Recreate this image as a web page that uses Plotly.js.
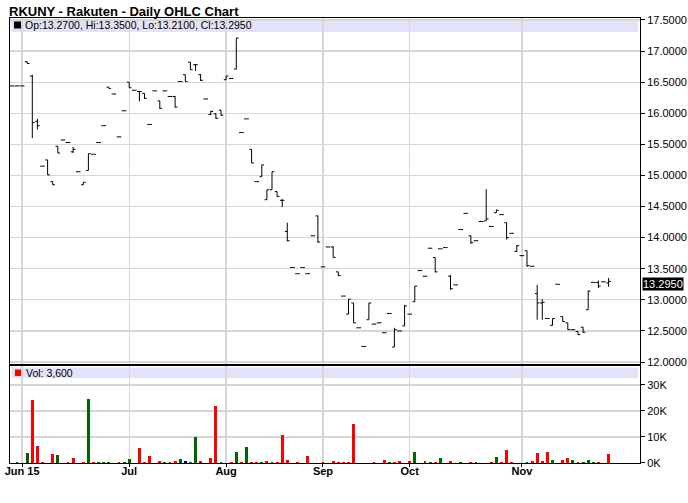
<!DOCTYPE html>
<html>
<head>
<meta charset="utf-8">
<script src="https://cdn.plot.ly/plotly-3.0.1.min.js"></script>
<style>html,body{margin:0;padding:0;background:#fff;}#chart{width:688px;height:503px;}</style>
</head>
<body>
<div id="chart"></div>
<script>
// Bar slots (trading sessions shown on the chart, left to right)
const slots = Array.from({length: 118}, (_, i) => i);

const opens = [
16.44,16.44,16.44,16.83,16.60,15.87,15.15,15.25,14.90,15.47,
15.57,15.53,15.38,15.06,14.85,15.08,15.34,15.53,15.80,16.42,
16.31,15.62,16.04,16.50,16.37,16.35,16.32,15.82,16.36,16.20,
16.36,16.27,16.27,16.51,16.62,16.82,16.78,16.62,16.23,15.98,
15.99,16.05,16.54,16.56,16.71,15.69,15.91,15.42,14.90,14.98,
14.61,14.77,14.74,14.60,14.10,13.52,13.42,13.52,13.42,14.03,
14.35,13.53,13.85,13.85,13.45,13.06,12.77,12.95,12.55,12.25,
12.68,12.61,12.63,12.47,12.78,12.24,12.50,12.58,12.77,12.97,
13.47,13.38,13.83,13.68,13.82,13.84,13.38,13.24,14.13,14.39,
14.03,13.95,14.26,14.27,14.18,14.40,14.37,14.24,14.07,13.78,
13.71,13.79,13.54,13.10,12.95,12.70,12.59,13.25,12.73,12.63,
12.52,12.49,12.56,12.84,13.28,13.28,13.29,13.27];

const highs = [
16.44,16.44,16.44,16.83,16.62,15.91,15.15,15.25,14.90,15.47,
15.57,15.53,15.46,15.06,14.89,15.35,15.34,15.53,15.80,16.42,
16.31,15.62,16.04,16.50,16.37,16.36,16.32,15.82,16.36,16.20,
16.36,16.27,16.28,16.51,16.62,16.82,16.79,16.63,16.23,16.04,
16.00,16.05,16.60,16.56,17.21,15.69,15.91,15.42,14.90,15.17,
14.77,15.06,14.74,14.62,14.24,13.52,13.42,13.52,13.42,14.03,
14.35,13.53,13.85,13.86,13.45,13.06,13.01,12.95,12.55,12.25,
12.95,12.61,12.63,12.47,12.78,12.55,12.50,12.92,12.77,13.22,
13.47,13.38,13.83,13.68,13.82,13.84,13.40,13.24,14.13,14.39,
14.03,13.95,14.26,14.78,14.18,14.45,14.37,14.24,14.07,13.88,
13.71,13.79,13.54,13.24,13.01,12.70,12.70,13.25,12.73,12.63,
12.52,12.49,12.56,13.15,13.28,13.31,13.29,13.35];

const lows = [
16.44,16.44,16.44,16.80,15.60,15.74,15.15,15.01,14.85,15.36,
15.57,15.53,15.36,15.06,14.85,15.08,15.34,15.53,15.80,16.40,
16.31,15.62,16.04,16.41,16.37,16.19,16.23,15.82,16.36,16.07,
16.36,16.27,16.09,16.51,16.51,16.70,16.68,16.52,16.23,15.97,
15.91,15.96,16.54,16.56,16.71,15.69,15.91,15.20,14.90,14.98,
14.61,14.77,14.66,14.49,13.94,13.52,13.42,13.52,13.42,14.03,
13.92,13.53,13.85,13.68,13.38,13.06,12.77,12.63,12.55,12.25,
12.68,12.61,12.63,12.47,12.78,12.24,12.50,12.58,12.77,12.97,
13.47,13.38,13.83,13.44,13.82,13.84,13.16,13.24,14.13,14.39,
13.90,13.95,14.26,14.27,14.18,14.40,14.37,13.97,14.07,13.77,
13.71,13.53,13.54,12.68,12.68,12.70,12.59,13.25,12.65,12.52,
12.52,12.44,12.47,12.84,13.28,13.19,13.29,13.21];

const closes = [
16.44,16.44,16.44,16.80,15.85,15.80,15.15,15.01,14.85,15.36,
15.57,15.53,15.42,15.06,14.89,15.35,15.34,15.53,15.80,16.40,
16.31,15.62,16.04,16.41,16.37,16.35,16.24,15.82,16.36,16.08,
16.36,16.27,16.10,16.51,16.51,16.70,16.78,16.53,16.23,16.03,
15.92,15.97,16.60,16.56,17.21,15.69,15.91,15.20,14.90,15.17,
14.77,15.06,14.66,14.60,13.95,13.52,13.42,13.52,13.42,14.03,
13.93,13.53,13.85,13.68,13.39,13.06,13.01,12.63,12.55,12.25,
12.95,12.61,12.63,12.47,12.78,12.52,12.50,12.90,12.77,13.22,
13.47,13.38,13.83,13.45,13.82,13.84,13.18,13.24,14.13,14.39,
13.92,13.95,14.26,14.30,14.18,14.44,14.37,14.00,14.07,13.87,
13.71,13.55,13.54,12.95,12.96,12.70,12.70,13.25,12.65,12.52,
12.52,12.44,12.48,13.14,13.28,13.22,13.29,13.295];

const volumes = [
0,400,0,3900,24300,6500,500,0,3500,3000,
0,500,1900,0,500,24600,500,500,500,500,
0,500,500,1500,0,5700,500,2600,0,800,
500,500,800,1400,900,400,9900,800,0,1800,
21700,400,0,400,4300,400,6100,400,400,400,
800,400,400,10700,1200,0,400,0,2600,0,
0,400,0,800,500,500,500,15000,0,0,
0,500,0,1300,400,500,800,0,800,4300,
0,900,400,500,1900,0,900,0,400,0,
500,400,0,0,500,2200,400,4900,400,0,
0,500,800,3700,800,4100,1200,0,1200,1800,
1200,400,500,1000,500,500,0,3600];

// u = up, d = down, n = unchanged, - = no trade
const volDir = [
'-','u','-','u','d','d','d','-','d','u',
'-','d','d','-','d','u','d','u','u','u',
'-','d','u','u','-','d','d','d','-','d',
'u','d','d','u','n','u','u','d','-','d',
'd','u','-','d','u','d','u','d','d','u',
'd','u','d','d','d','-','d','-','d','-',
'-','d','-','d','d','d','d','d','-','-',
'-','d','-','d','u','d','d','-','d','u',
'-','d','u','d','u','-','d','-','u','-',
'd','u','-','-','d','u','d','d','d','-',
'-','u','d','d','d','d','u','-','d','d',
'u','d','u','u','u','d','-','d'];

const monthSlots = [2, 23, 42, 61, 78, 100];
const monthLabels = ['Jun 15', 'Jul', 'Aug', 'Sep', 'Oct', 'Nov'];

const priceTicks = [12.0, 12.5, 13.0, 13.5, 14.0, 14.5, 15.0, 15.5, 16.0, 16.5, 17.0, 17.5];
const volTicks = [0, 10000, 20000, 30000];
const volTickText = ['0K', '10K', '20K', '30K'];

// ---------------------------------------------------------------
const FONT = 'Liberation Sans, Arial, sans-serif';
const dirColor = {u: '#006400', d: '#ff0000', n: '#000080', '-': '#ffffff'};
const last = slots.length - 1;
const fmt4 = v => v.toFixed(4);

// plot geometry (pixels)
const W = 688, H = 503, L = 10, R = 48, T = 18, B = 40;
const plotH = H - T - B;
const py = p => (H - B - p) / plotH;          // pixel row -> paper y
const px = p => (p - L) / (W - L - R);        // pixel col -> paper x

const traces = [
  {
    type: 'ohlc', x: slots, open: opens, high: highs, low: lows, close: closes,
    xaxis: 'x', yaxis: 'y2', tickwidth: 0.45,
    increasing: {line: {color: '#000000', width: 1}},
    decreasing: {line: {color: '#000000', width: 1}},
    hoverinfo: 'skip', showlegend: false
  },
  {
    type: 'bar', x: slots, y: volumes, xaxis: 'x', yaxis: 'y', width: 0.58,
    marker: {color: volDir.map(d => dirColor[d]), line: {width: 0}},
    hoverinfo: 'skip', showlegend: false
  }
];

const gridColor = '#d6d6d6';
const layout = {
  width: W, height: H,
  margin: {l: L, r: R, t: T, b: B, pad: 0},
  paper_bgcolor: '#ffffff', plot_bgcolor: '#ffffff',
  font: {family: FONT, size: 11, color: '#000'},
  showlegend: false, hovermode: false, bargap: 0,
  xaxis: {
    range: [-0.373, 123.16], anchor: 'y',
    tickmode: 'array', tickvals: monthSlots, ticktext: monthLabels,
    ticks: 'outside', ticklen: 3, tickcolor: '#000', tickwidth: 1,
    ticklabelstandoff: -5,
    tickfont: {family: FONT, size: 11, color: '#000', weight: 'bold'},
    showgrid: true, gridcolor: gridColor, gridwidth: 1.3,
    showline: true, linecolor: '#000', linewidth: 1, mirror: 'all',
    zeroline: false, rangeslider: {visible: false}, fixedrange: true
  },
  yaxis: {
    domain: [0, py(366)], anchor: 'x', side: 'right',
    range: [-30, 37260],
    tickmode: 'array', tickvals: volTicks, ticktext: volTickText,
    ticks: 'outside', ticklen: 4, tickcolor: '#000',
    tickfont: {family: FONT, size: 11, color: '#000'},
    showgrid: true, gridcolor: gridColor, gridwidth: 1.3,
    showline: true, linecolor: '#000', linewidth: 1, mirror: true,
    zeroline: false, fixedrange: true
  },
  yaxis2: {
    domain: [py(364), 1], anchor: 'x', side: 'right',
    range: [11.968, 17.532],
    tickmode: 'array', tickvals: priceTicks, ticktext: priceTicks.map(fmt4),
    ticks: 'outside', ticklen: 4, tickcolor: '#000',
    tickfont: {family: FONT, size: 11, color: '#000'},
    showgrid: true, gridcolor: gridColor, gridwidth: 1.3,
    showline: true, linecolor: '#000', linewidth: 1, mirror: true,
    zeroline: false, fixedrange: true
  },
  shapes: [
    {type: 'rect', xref: 'paper', yref: 'paper', x0: px(11.5), x1: px(638), y0: py(32), y1: py(19),
     fillcolor: '#e2e2f8', line: {width: 0}, layer: 'between'},
    {type: 'rect', xref: 'paper', yref: 'paper', x0: px(14), x1: px(21), y0: py(28.5), y1: py(21.5),
     fillcolor: '#000000', line: {width: 0}, layer: 'above'},
    {type: 'rect', xref: 'paper', yref: 'paper', x0: px(11.5), x1: px(638), y0: py(378), y1: py(367.5),
     fillcolor: '#e2e2f8', line: {width: 0}, layer: 'between'},
    {type: 'rect', xref: 'paper', yref: 'paper', x0: px(15), x1: px(21), y0: py(376), y1: py(369.5),
     fillcolor: '#ff0000', line: {width: 0}, layer: 'above'}
  ],
  annotations: [
    {text: 'RKUNY - Rakuten - Daily OHLC Chart', xref: 'paper', yref: 'paper',
     x: px(7), y: py(11), xanchor: 'left', yanchor: 'middle', showarrow: false,
     font: {family: FONT, size: 13, color: '#000', weight: 'bold'}},
    {text: 'Op:' + fmt4(opens[last]) + ', Hi:' + fmt4(highs[last]) + ', Lo:' + fmt4(lows[last]) + ', Cl:' + fmt4(closes[last]),
     xref: 'paper', yref: 'paper', x: px(22.5), y: py(25.3), xanchor: 'left', yanchor: 'middle',
     showarrow: false, font: {family: FONT, size: 10.5, color: '#000'}},
    {text: 'Vol: ' + volumes[last].toLocaleString('en-US'),
     xref: 'paper', yref: 'paper', x: px(24), y: py(372.5), xanchor: 'left', yanchor: 'middle',
     showarrow: false, font: {family: FONT, size: 10.5, color: '#000'}},
    {text: fmt4(closes[last]), xref: 'paper', yref: 'y2', x: 1, y: closes[last],
     xanchor: 'left', yanchor: 'middle', xshift: 2, yshift: -3, showarrow: false,
     bgcolor: '#000000', borderpad: 0, font: {family: FONT, size: 11, color: '#ffffff'}}
  ]
};

Plotly.newPlot('chart', traces, layout, {staticPlot: true, displayModeBar: false});
</script>
</body>
</html>
